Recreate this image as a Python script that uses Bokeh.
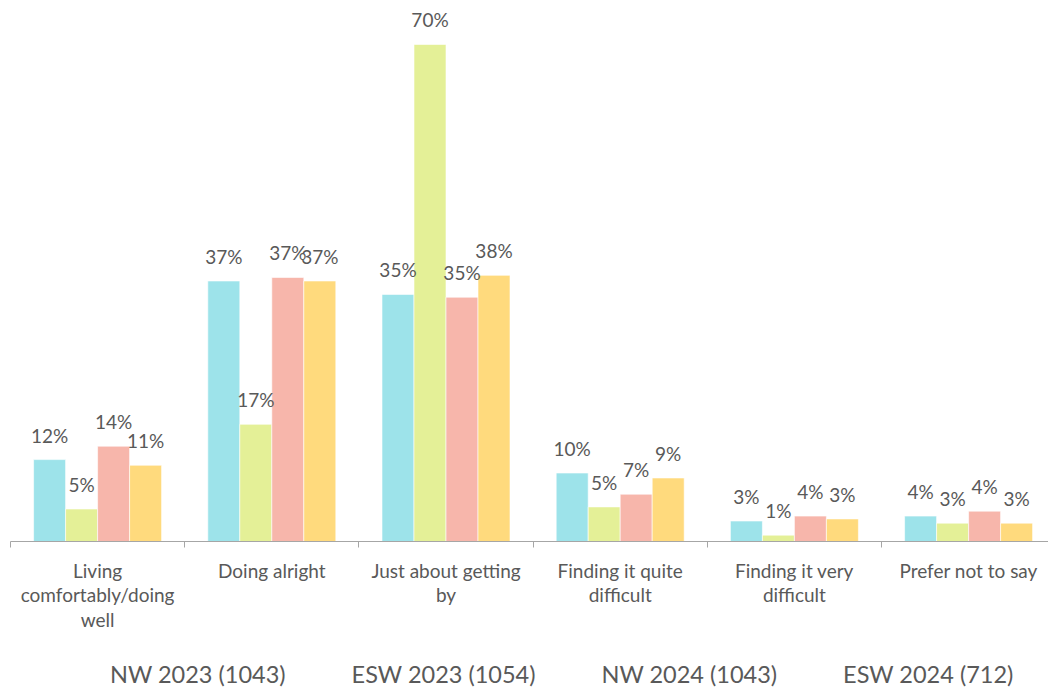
from bokeh.plotting import figure
from bokeh.layouts import column
from bokeh.models import ColumnDataSource, Range1d, FixedTicker, Legend, LegendItem, LabelSet
from bokeh.transform import dodge
from bokeh.core.properties import value
from bokeh.embed import file_html
from bokeh.resources import INLINE

categories = ["Living\ncomfortably/doing\nwell", "Doing alright", "Just about getting\nby",
              "Finding it quite\ndifficult", "Finding it very\ndifficult", "Prefer not to say"]
series_names = ["NW 2023 (1043)", "ESW 2023 (1054)", "NW 2024 (1043)", "ESW 2024 (712)"]
nw_2023 = [11.6, 36.9, 35.0, 9.7, 2.9, 3.6]
esw_2023 = [4.6, 16.6, 70.4, 4.9, 0.9, 2.6]
nw_2024 = [13.5, 37.4, 34.6, 6.7, 3.6, 4.3]
esw_2024 = [10.8, 36.9, 37.7, 9.0, 3.2, 2.6]
colors = ["#9DE3EA", "#E4F097", "#F7B6AB", "#FFDA7D"]

series_values = [nw_2023, esw_2023, nw_2024, esw_2024]
centers = [i + 0.5 for i in range(len(categories))]
bounds = [float(i) for i in range(len(categories) + 1)]

TEXT = "#595959"
FONT = "Lato"
bar_w = 0.1837

p = figure(width=1048, height=645, output_backend="svg", toolbar_location=None,
           x_range=Range1d(0, 1038 / 174.2), y_range=Range1d(0, 541 / 7.06),
           min_border_left=10, min_border_right=0, min_border_top=0, min_border_bottom=104)
p.outline_line_color = None
p.xgrid.grid_line_color = None
p.ygrid.grid_line_color = None
p.yaxis.visible = False

for k, (name, vals, col) in enumerate(zip(series_names, series_values, colors)):
    src = ColumnDataSource(dict(x=centers, top=vals, label=[f"{v:.0f}%" for v in vals]))
    off = (k - 1.5) * bar_w
    p.vbar(x=dodge("x", off, range=p.x_range), top="top", width=bar_w, source=src,
           fill_color=col, line_color="white", line_width=0.6)
    lbl = LabelSet(x=dodge("x", off, range=p.x_range), y="top", text="label", source=src,
                   y_offset=17, text_align="center", text_baseline="alphabetic",
                   text_font=value(FONT), text_font_size=value("19px"), text_color=value(TEXT))
    p.add_layout(lbl)

ax = p.xaxis[0]
ax.ticker = FixedTicker(ticks=centers, minor_ticks=bounds)
ax.major_label_overrides = {c: lab for c, lab in zip(centers, categories)}
ax.axis_line_color = "#A6A6A6"
ax.axis_line_width = 1
ax.major_tick_out = 0
ax.major_tick_in = 0
ax.minor_tick_out = 6
ax.minor_tick_in = 0
ax.minor_tick_line_color = "#A6A6A6"
ax.major_label_standoff = 11
ax.major_label_text_font = FONT
ax.major_label_text_font_size = "19px"
ax.major_label_text_color = TEXT
ax.major_label_text_line_height = 1.07

# legend strip below the chart
lg = figure(width=1048, height=46, output_backend="svg", toolbar_location=None,
            x_range=Range1d(0, 1), y_range=Range1d(0, 1),
            min_border_left=0, min_border_right=0, min_border_top=0, min_border_bottom=0)
lg.outline_line_color = None
lg.axis.visible = False
lg.grid.visible = False
items = []
for name, col in zip(series_names, colors):
    r = lg.vbar(x=[], top=[], width=0.1, fill_color=col, line_color=None)
    items.append(LegendItem(label=name, renderers=[r]))
legend = Legend(items=items, orientation="horizontal", location=(78, 3),
                label_text_font=FONT, label_text_font_size="23.5px", label_text_color=TEXT,
                glyph_width=15, glyph_height=15, label_standoff=7, spacing=44,
                border_line_color=None, background_fill_alpha=0, padding=0, margin=0)
lg.add_layout(legend)

open("out.html", "w").write(file_html(column(p, lg, spacing=0), INLINE))
